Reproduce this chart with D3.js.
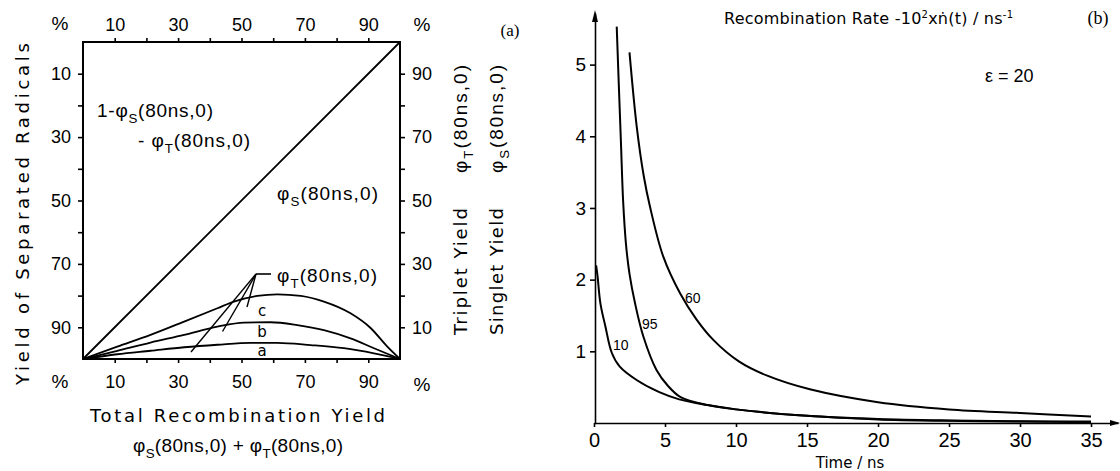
<!DOCTYPE html>
<html>
<head>
<meta charset="utf-8">
<script src="https://cdn.jsdelivr.net/npm/d3@7"></script>
<style>
  body { margin: 0; background: #fff; }
  svg { display: block; font-family: "Liberation Sans", Arial, sans-serif; }
  .axis path, .axis line { stroke: #000; stroke-width: 1.6; }
  .axis text { font-family: "Liberation Sans", Arial, sans-serif; fill: #000; }
  .title { font-family: "DejaVu Sans", "Liberation Sans", sans-serif; }
</style>
</head>
<body>
<svg id="chart" width="1120" height="471"></svg>
<script>
// ---- panel (a): yields vs total recombination yield (%) ----
var pctTicks = [10, 20, 30, 40, 50, 60, 70, 80, 90];
var pctLabels = [10, 30, 50, 70, 90];

// triplet yield curves a, b, c
var curveA_x = [0, 10.8, 21.3, 31.9, 42.4, 52.9, 61.3, 71.8, 82.3, 91.8, 100];
var curveA_y = [0, 1.5, 2.6, 3.7, 4.5, 5.1, 5.1, 4.4, 3.4, 1.8, 0];
var curveB_x = [0, 10.8, 21.3, 31.9, 42.4, 50.8, 59.2, 67.6, 76, 84.4, 91.8, 100];
var curveB_y = [0, 2.6, 5.2, 7.6, 10.2, 11.5, 11.6, 10.7, 9.1, 6.5, 3.4, 0];
var curveC_x = [0, 10.8, 21.3, 31.9, 42.4, 47.6, 55, 61.3, 68.7, 76, 84.4, 90.8, 96, 100];
var curveC_y = [0, 3.9, 7.6, 11.8, 16, 18.1, 19.9, 20.4, 19.9, 18.1, 14.4, 9.7, 3.9, 0];
var curveNames = ["a", "b", "c"];
var diagonal_x = [0, 100], diagonal_y = [0, 100];

// ---- panel (b): recombination rate vs time, eps = 20 ----
var timeTicks = [0, 5, 10, 15, 20, 25, 30, 35];
var rateTicks = [1, 2, 3, 4, 5];
var rate10_t = [0.15, 0.25, 0.45, 0.8, 1.25, 1.8, 3.0, 4.6, 6.0, 8, 10, 15, 20, 25, 30, 35];
var rate10_v = [2.2, 2.05, 1.67, 1.35, 0.98, 0.79, 0.6, 0.43, 0.33, 0.25, 0.19, 0.1, 0.05, 0.03, 0.02, 0.01];
var rate95_t = [1.6, 1.75, 1.9, 2.05, 2.25, 2.5, 2.89, 3.47, 4.4, 5.2, 6.1, 8, 10, 15, 20, 25, 30, 35];
var rate95_v = [5.53, 4.7, 3.9, 3.1, 2.5, 2.08, 1.67, 1.21, 0.74, 0.52, 0.36, 0.25, 0.19, 0.1, 0.055, 0.035, 0.025, 0.02];
var rate60_t = [2.5, 3.0, 3.5, 3.94, 4.88, 6.06, 7.2, 8.4, 10.2, 12.2, 15.2, 20, 25, 30, 35];
var rate60_v = [5.17, 4.15, 3.45, 3.02, 2.32, 1.81, 1.45, 1.16, 0.86, 0.66, 0.47, 0.29, 0.19, 0.14, 0.09];
var rateNames = ["10", "95", "60"];

var svg = d3.select("#chart");
svg.append("rect").attr("width", 1120).attr("height", 471).attr("fill", "#fff");

function zip(xs, ys) { return xs.map(function(x, i) { return [x, ys[i]]; }); }

// helper: phi with subscript, e.g. φ_S(80ns,0)
function phiText(sel, pre, sub, post, size) {
  if (pre) sel.append("tspan").text(pre);
  sel.append("tspan").text("\u03c6");
  sel.append("tspan").attr("dy", size * 0.3).attr("font-size", size * 0.7).text(sub);
  sel.append("tspan").attr("dy", -size * 0.3).text(post);
  return sel;
}

// ================= panel (a) =================
var x = d3.scaleLinear().domain([0, 100]).range([83, 400]);
var yT = d3.scaleLinear().domain([0, 100]).range([359, 42]);   // triplet / singlet yield
var yR = d3.scaleLinear().domain([0, 100]).range([42, 359]);   // separated radicals

var a = svg.append("g");
var fmtOdd = function(d) { return pctLabels.indexOf(d) >= 0 ? d : ""; };

a.append("g").attr("class", "axis").attr("transform", "translate(0,42)")
  .call(d3.axisTop(x).tickValues(pctTicks).tickSize(4).tickSizeOuter(0).tickPadding(7).tickFormat(fmtOdd))
  .call(function(g) { g.select(".domain").remove(); })
  .selectAll("text").attr("font-size", 18);
a.append("g").attr("class", "axis").attr("transform", "translate(0,359)")
  .call(d3.axisBottom(x).tickValues(pctTicks).tickSize(4).tickSizeOuter(0).tickPadding(12).tickFormat(fmtOdd))
  .call(function(g) { g.select(".domain").remove(); })
  .selectAll("text").attr("font-size", 18);
a.append("g").attr("class", "axis").attr("transform", "translate(83,0)")
  .call(d3.axisLeft(yR).tickValues(pctTicks).tickSize(5).tickPadding(7).tickFormat(fmtOdd))
  .call(function(g) { g.select(".domain").remove(); })
  .selectAll("text").attr("font-size", 18);
a.append("g").attr("class", "axis").attr("transform", "translate(400,0)")
  .call(d3.axisRight(yT).tickValues(pctTicks).tickSize(5).tickPadding(7).tickFormat(fmtOdd))
  .call(function(g) { g.select(".domain").remove(); })
  .selectAll("text").attr("font-size", 18);

// frame
a.append("rect").attr("x", x(0)).attr("y", yT(100))
  .attr("width", x(100) - x(0)).attr("height", yT(0) - yT(100))
  .attr("fill", "none").attr("stroke", "#000").attr("stroke-width", 2);

// percent markers
[[60, 30], [422, 31], [60, 388], [422, 391]].forEach(function(p) {
  a.append("text").attr("x", p[0]).attr("y", p[1]).attr("text-anchor", "middle")
    .attr("font-size", 19).text("%");
});

var lineA = d3.line().x(function(d) { return x(d[0]); }).y(function(d) { return yT(d[1]); })
  .curve(d3.curveMonotoneX);

a.append("path").datum(zip(diagonal_x, diagonal_y)).attr("d", lineA)
  .attr("fill", "none").attr("stroke", "#000").attr("stroke-width", 1.8);

var tripletCurves = [zip(curveA_x, curveA_y), zip(curveB_x, curveB_y), zip(curveC_x, curveC_y)];
a.selectAll(".trip").data(tripletCurves).enter().append("path")
  .attr("class", "trip").attr("d", lineA)
  .attr("fill", "none").attr("stroke", "#000").attr("stroke-width", 1.8);

// curve letters
var letterPos = [[262, 356], [262, 337], [262, 316]];
curveNames.forEach(function(n, i) {
  a.append("text").attr("class", "title").attr("x", letterPos[i][0]).attr("y", letterPos[i][1])
    .attr("text-anchor", "middle").attr("font-size", 15).text(n);
});

// leader lines to phi_T label
var apex = [256, 274];
[[191, 352], [222.5, 331.5], [247, 307]].forEach(function(p) {
  a.append("line").attr("x1", apex[0]).attr("y1", apex[1]).attr("x2", p[0]).attr("y2", p[1])
    .attr("stroke", "#000").attr("stroke-width", 1.4);
});
a.append("line").attr("x1", apex[0]).attr("y1", apex[1]).attr("x2", 271).attr("y2", apex[1])
  .attr("stroke", "#000").attr("stroke-width", 1.6);

// annotations inside panel (a)
phiText(a.append("text").attr("x", 97).attr("y", 117).attr("font-size", 19).attr("textLength", 116), "1-", "S", "(80ns,0)", 19);
phiText(a.append("text").attr("x", 138).attr("y", 147).attr("font-size", 19).attr("textLength", 112), "- ", "T", "(80ns,0)", 19);
phiText(a.append("text").attr("x", 277).attr("y", 200).attr("font-size", 19).attr("textLength", 101), "", "S", "(80ns,0)", 19);
phiText(a.append("text").attr("x", 277).attr("y", 282).attr("font-size", 19).attr("textLength", 100), "", "T", "(80ns,0)", 19);

// axis titles panel (a)
a.append("text").attr("class", "title").attr("transform", "translate(29,214) rotate(-90)")
  .attr("text-anchor", "middle").attr("font-size", 18)
  .attr("textLength", 342).attr("lengthAdjust", "spacing")
  .text("Yield of Separated Radicals");
a.append("text").attr("class", "title").attr("x", 90).attr("y", 422).attr("font-size", 18)
  .attr("textLength", 295).attr("lengthAdjust", "spacing")
  .text("Total Recombination Yield");
var bt = a.append("text").attr("x", 133).attr("y", 452).attr("font-size", 19).attr("textLength", 210);
phiText(bt, "", "S", "(80ns,0)", 19);
bt.append("tspan").text(" + ");
phiText(bt, "", "T", "(80ns,0)", 19);

// right-side titles (rotated)
[["Triplet  Yield", "T", 467], ["Singlet  Yield", "S", 503]].forEach(function(r) {
  a.append("text").attr("class", "title").attr("transform", "translate(" + r[2] + ",335) rotate(-90)")
    .attr("font-size", 18).attr("textLength", 127).attr("lengthAdjust", "spacing").text(r[0]);
  phiText(a.append("text").attr("transform", "translate(" + r[2] + ",173) rotate(-90)")
    .attr("font-size", 19).attr("textLength", 108), "", r[1], "(80ns,0)", 19);
});

a.append("text").attr("x", 510).attr("y", 36).attr("text-anchor", "middle")
  .attr("font-family", "Liberation Serif, serif").attr("font-size", 17).text("(a)");

// ================= panel (b) =================
var xt = d3.scaleLinear().domain([0, 36.9]).range([594, 1118]);
var yv = d3.scaleLinear().domain([0, 5.72]).range([423, 13]);
var b = svg.append("g");

b.append("g").attr("class", "axis").attr("transform", "translate(0,423)")
  .call(d3.axisBottom(xt).tickValues(timeTicks).tickSize(4).tickSizeOuter(0).tickPadding(6))
  .selectAll("text").attr("font-size", 20);
b.append("g").attr("class", "axis").attr("transform", "translate(595,0)")
  .call(d3.axisLeft(yv).tickValues(rateTicks).tickSize(5).tickSizeOuter(0).tickPadding(4)
    .tickFormat(d3.format("d")))
  .selectAll("text").attr("font-size", 19);
b.selectAll(".domain").attr("stroke-width", 2);

// arrow tips
b.append("path").attr("d", d3.line()([[592, 22], [595, 10], [598, 22]])).attr("fill", "#000");
b.append("path").attr("d", d3.line()([[1110, 420], [1120, 423], [1110, 426]])).attr("fill", "#000");

var lineB = d3.line().x(function(d) { return xt(d[0]); }).y(function(d) { return yv(d[1]); })
  .curve(d3.curveCatmullRom.alpha(0.5));
var rateCurves = [zip(rate10_t, rate10_v), zip(rate95_t, rate95_v), zip(rate60_t, rate60_v)];
b.selectAll(".rate").data(rateCurves).enter().append("path")
  .attr("class", "rate").attr("d", lineB)
  .attr("fill", "none").attr("stroke", "#000").attr("stroke-width", 2);

var ratePos = [[613, 350], [642, 329], [685, 303]];
rateNames.forEach(function(n, i) {
  b.append("text").attr("x", ratePos[i][0]).attr("y", ratePos[i][1])
    .attr("font-size", 14).text(n);
});

b.append("text").attr("class", "title").attr("x", 850).attr("y", 468).attr("text-anchor", "middle")
  .attr("font-size", 15).text("Time / ns");

var tt = b.append("text").attr("class", "title").attr("x", 724).attr("y", 24).attr("font-size", 16)
  .attr("textLength", 289).attr("lengthAdjust", "spacing");
tt.append("tspan").text("Recombination  Rate  -10");
tt.append("tspan").attr("dy", -6).attr("font-size", 10).text("2");
tt.append("tspan").attr("dy", 6).text("x\u1e45(t) / ns");
tt.append("tspan").attr("dy", -6).attr("font-size", 10).text("-1");

b.append("text").attr("x", 1098).attr("y", 24).attr("text-anchor", "middle")
  .attr("font-family", "Liberation Serif, serif").attr("font-size", 18).text("(b)");

b.append("text").attr("x", 985).attr("y", 82).attr("font-size", 18).text("\u03b5 = 20");
</script>
</body>
</html>
